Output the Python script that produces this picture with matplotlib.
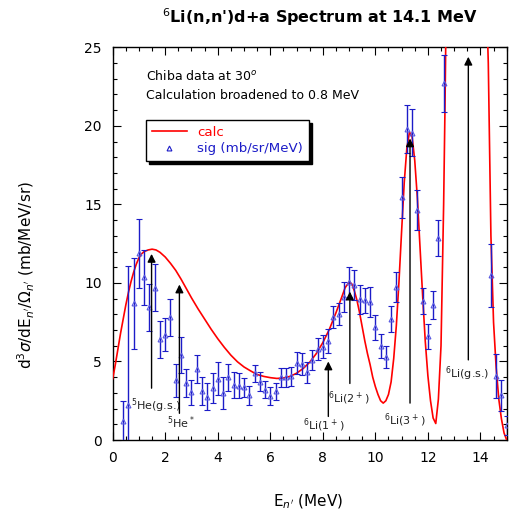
import matplotlib
matplotlib.use("Agg")
import matplotlib.pyplot as plt
from matplotlib.lines import Line2D
from matplotlib.ticker import MultipleLocator

# measured spectrum (MeV, mb/sr/MeV, 1-sigma)
sig_e = [0.4, 0.6, 0.8, 1.0, 1.2, 1.4, 1.6, 1.8, 2.0, 2.2, 2.4, 2.6, 2.8, 3.0,
         3.2, 3.4, 3.6, 3.8, 4.0, 4.2, 4.4, 4.6, 4.8, 5.0, 5.2, 5.4, 5.6, 5.8,
         6.0, 6.2, 6.4, 6.6, 6.8, 7.0, 7.2, 7.4, 7.6, 7.8, 8.0, 8.2, 8.4, 8.6,
         8.8, 9.0, 9.2, 9.4, 9.6, 9.8, 10.0, 10.2, 10.4, 10.6, 10.8, 11.0,
         11.2, 11.4, 11.6, 11.8, 12.0, 12.2, 12.4, 12.6, 14.4, 14.6, 14.8, 15.0]
sig_val = [1.2, 2.25, 8.7, 11.9, 10.35, 8.45, 9.7, 6.4, 6.7, 7.8, 3.8, 5.4,
           3.65, 3.05, 4.5, 3.1, 2.75, 3.3, 3.9, 3.0, 4.0, 3.5, 3.45, 3.35,
           2.85, 4.25, 3.7, 3.2, 2.8, 3.1, 4.0, 4.0, 4.05, 4.9, 4.85, 4.3,
           5.1, 5.8, 5.95, 6.3, 7.85, 8.0, 9.1, 10.05, 9.85, 8.95, 8.9, 8.8,
           7.17, 6.0, 5.3, 7.7, 9.76, 15.45, 19.8, 19.55, 14.65, 8.85, 6.6,
           8.6, 12.85, 22.7, 10.5, 4.05, 2.85, 0.95]
sig_err = [1.3, 8.8, 2.9, 2.2, 1.75, 1.5, 1.5, 1.15, 1.05, 1.15, 1.05, 1.15,
           0.9, 0.8, 0.9, 0.9, 0.85, 0.95, 1.05, 1.0, 0.85, 0.85, 0.8, 0.6,
           0.6, 0.55, 0.6, 0.55, 0.6, 0.55, 0.6, 0.6, 0.6, 0.7, 0.7, 0.65,
           0.65, 0.7, 0.75, 0.75, 0.7, 0.7, 0.95, 0.95, 0.95, 0.9, 0.8, 0.95,
           0.8, 0.75, 0.7, 0.85, 0.95, 1.3, 1.5, 1.5, 1.25, 0.85, 0.8, 0.9,
           1.15, 1.8, 2.0, 1.4, 1.0, 0.6]

# calculation broadened to 0.8 MeV
calc_e = [0.0, 0.1, 0.2, 0.3, 0.4, 0.5, 0.6, 0.7, 0.8, 0.9, 1.0, 1.1, 1.2,
          1.35, 1.5, 1.65, 1.8, 2.0, 2.2, 2.4, 2.6, 2.8, 3.0, 3.25, 3.5, 3.75,
          4.0, 4.25, 4.5, 4.75, 5.0, 5.25, 5.5, 5.75, 6.0, 6.25, 6.5, 6.75,
          7.0, 7.25, 7.5, 7.75, 8.0, 8.25, 8.5, 8.7, 8.85, 9.0, 9.1, 9.2, 9.3,
          9.4, 9.5, 9.6, 9.7, 9.8, 9.9, 10.0, 10.1, 10.2, 10.3, 10.4, 10.5,
          10.6, 10.7, 10.8, 10.9, 11.0, 11.1, 11.2, 11.3, 11.4, 11.5, 11.6,
          11.7, 11.8, 11.9, 12.0, 12.1, 12.2, 12.3, 12.4, 12.5, 12.6, 12.65,
          12.7, 12.8, 13.4, 14.0, 14.2, 14.3, 14.4, 14.5, 14.6, 14.7, 14.8,
          14.9, 15.0]
calc_val = [3.9, 4.8, 5.8, 6.8, 7.7, 8.6, 9.4, 10.1, 10.7, 11.2, 11.6, 11.85,
            12.0, 12.1, 12.15, 12.1, 11.95, 11.65, 11.25, 10.8, 10.25, 9.65,
            9.05, 8.35, 7.7, 7.05, 6.45, 5.9, 5.4, 4.98, 4.65, 4.4, 4.17, 4.05,
            3.97, 3.92, 3.95, 4.05, 4.25, 4.55, 4.95, 5.5, 6.2, 7.05, 8.1, 9.0,
            9.7, 10.05, 9.95, 9.5, 8.9, 8.1, 7.2, 6.3, 5.5, 4.8, 4.0, 3.4, 2.9,
            2.5, 2.35, 2.5, 2.9, 3.7, 5.2, 7.3, 10.1, 13.3, 16.4, 18.6, 19.6,
            19.3, 17.8, 15.4, 12.3, 9.2, 6.3, 4.1, 2.5, 1.4, 1.05, 2.6, 6.0,
            15.0, 21.0, 28.0, 45.0, 80.0, 45.0, 30.0, 24.0, 13.0, 7.5, 4.6,
            2.6, 1.35, 0.45, 0.0]

# level markers: energy, arrow tip, arrow base, label, label position
level_e = [1.48, 2.54, 8.21, 9.03, 11.32, 13.54]
level_tip = [11.85, 9.9, 5.0, 9.45, 19.2, 24.4]
level_base = [3.3, 1.7, 1.5, 3.6, 2.35, 5.1]
level_names = ["$^5$He(g.s.)", "$^5$He$^*$", "$^6$Li(1$^+$)", "$^6$Li(2$^+$)",
               "$^6$Li(3$^+$)", "$^6$Li(g.s.)"]
label_x = [1.67, 2.6, 8.04, 8.97, 11.12, 13.5]
label_y = [2.2, 1.12, 0.95, 2.65, 1.27, 4.24]

blue = "#1c1cc8"
red = "#ff0000"

fig = plt.figure(figsize=(5.12, 5.15), dpi=100)
ax = fig.add_axes([0.2201, 0.1456, 0.7695, 0.7625])

ax.plot(calc_e, calc_val, color=red, lw=1.2, zorder=3)
ax.errorbar(sig_e, sig_val, yerr=sig_err, fmt="^", ms=3.5, mfc="none",
            mec="#5a5ae0", mew=0.8, ecolor=blue, elinewidth=1, capsize=2,
            capthick=1, zorder=4)

for e, tip, base in zip(level_e, level_tip, level_base):
    ax.annotate("", xy=(e, tip), xytext=(e, base),
                arrowprops=dict(arrowstyle="-|>", color="k", lw=1,
                                mutation_scale=12, shrinkA=0, shrinkB=0),
                zorder=5)
for name, x, y in zip(level_names, label_x, label_y):
    ax.text(x, y, name, ha="center", va="center", fontsize=8, color="#222222")

ax.text(1.27, 23.2, "Chiba data at 30$^o$", fontsize=9, va="center")
ax.text(1.27, 21.95, "Calculation broadened to 0.8 MeV", fontsize=9,
        va="center")

handles = [Line2D([], [], color=red, lw=1.2),
           Line2D([], [], ls="none", marker="^", ms=3.5, mfc="none",
                  mec=blue, mew=0.8)]
leg = ax.legend(handles, ["calc", "sig (mb/sr/MeV)"], loc="upper left",
                bbox_to_anchor=(0.0845, 0.815), borderaxespad=0,
                fancybox=False, edgecolor="k", fontsize=9.6, handlelength=2.6,
                borderpad=0.45, labelspacing=0.25,
                shadow={"color": "k", "alpha": 1})
leg.get_frame().set_linewidth(1)
for txt, col in zip(leg.get_texts(), [red, blue]):
    txt.set_color(col)

ax.set_xlim(0, 15)
ax.set_ylim(0, 25)
ax.xaxis.set_major_locator(MultipleLocator(2))
ax.xaxis.set_minor_locator(MultipleLocator(0.5))
ax.yaxis.set_major_locator(MultipleLocator(5))
ax.yaxis.set_minor_locator(MultipleLocator(1))
ax.tick_params(which="both", direction="in", top=True, right=True,
               labelsize=10, width=0.8)
ax.tick_params(which="major", length=6, pad=8)
ax.tick_params(which="minor", length=3)
for sp in ax.spines.values():
    sp.set_linewidth(1)

ax.set_xlabel("E$_{n'}$ (MeV)", fontsize=11)
ax.xaxis.set_label_coords(0.497, -0.135)
ax.xaxis.label.set_va("top")
ax.set_ylabel("d$^3\\sigma$/dE$_{n'}$/$\\Omega_{n'}$ (mb/MeV/sr)", fontsize=11)
ax.yaxis.set_label_coords(-0.192, 0.42)

fig.text(0.625, 0.967, "$^6$Li(n,n')d+a Spectrum at 14.1 MeV", ha="center",
         va="center", fontsize=11.5, fontweight="bold")

fig.savefig("out.png", dpi=100)
